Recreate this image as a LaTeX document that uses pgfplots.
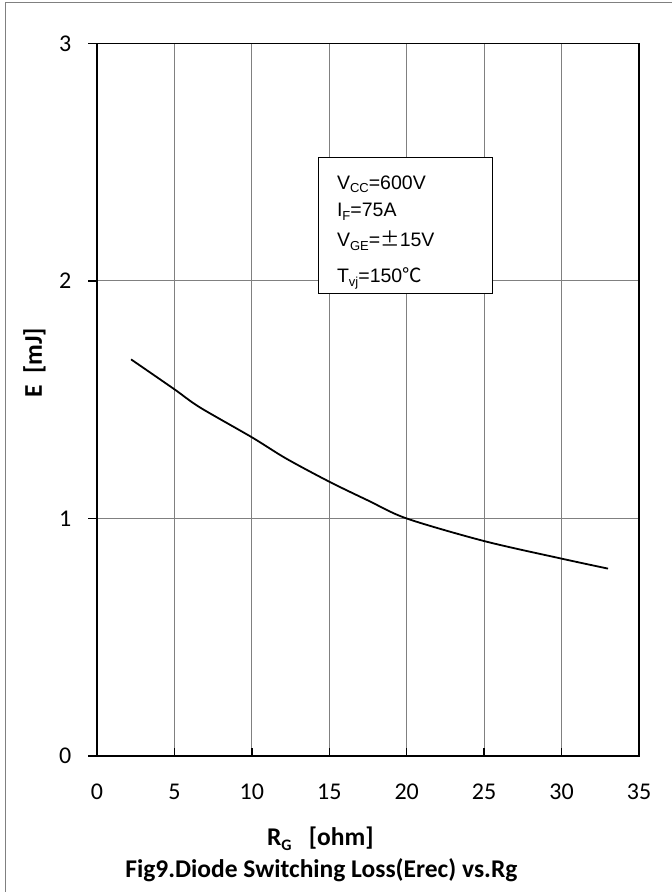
\documentclass[border=0pt]{standalone}
\usepackage{fontspec}
\setmainfont{Carlito}
\newfontfamily\arial{Liberation Sans}
\newfontfamily\cjk{Noto Sans CJK SC}
\usepackage{pgfplots}
\pgfplotsset{compat=1.18}
\newcommand{\sub}[1]{\raisebox{-0.35ex}{\fontsize{13}{13}\selectfont #1}}
\newcommand{\bsub}[1]{\raisebox{-0.4ex}{\fontsize{16}{16}\selectfont #1}}
\begin{document}
\begin{tikzpicture}
\begin{axis}[
  at={(0,0)}, anchor=south west,
  scale only axis, width=542pt, height=712.5pt,
  xmin=0, xmax=35, ymin=0, ymax=3,
  xtick={0,5,...,35}, ytick={0,1,2,3},
  grid=major,
  major grid style={draw=black!50, line width=1pt},
  axis line style={black, line width=1.6pt},
  xtick pos=bottom, ytick pos=left,
  xtick align=inside, ytick align=outside,
  major tick length=8.5pt,
  tick style={black, line width=1.3pt},
  xticklabel={\fontsize{24}{25}\selectfont\pgfmathprintnumber[assume math mode=true]{\tick}},
  yticklabel={\fontsize{24}{25}\selectfont\pgfmathprintnumber[assume math mode=true]{\tick}},
  xticklabel style={anchor=center, yshift=-36pt},
  yticklabel style={anchor=east, inner sep=0pt, xshift=-17pt},
  xlabel={\textbf{R\bsub{G}\ \ \ [ohm]}},
  xlabel style={at={(axis description cs:0.412,-0.1263)}, anchor=base, font=\fontsize{25.5}{26}\selectfont},
  ylabel={\textbf{E\ \ [mJ]}},
  ylabel style={at={(axis description cs:-0.1015,0.552)}, anchor=base, rotate=0, font=\fontsize{25.5}{26}\selectfont},
  clip=false,
]
\addplot[black, line width=1.8pt, smooth, tension=0.5] coordinates {
 (2.2,1.670) (5,1.544) (6.64,1.468) (10,1.342) (12.2,1.253) (15,1.155)
 (17.53,1.075) (20,1.0) (25,0.905) (30,0.831) (33,0.789)
};
\draw[black, line width=1pt, fill=white] (axis cs:14.33,1.949) rectangle (axis cs:25.57,2.518);
\begin{scope}[every node/.style={anchor=base west, inner sep=0pt, font=\arial\fontsize{19.5}{20}\selectfont}]
\node at (axis cs:15.49,2.387) {V\sub{CC}=600V};
\node at (axis cs:15.49,2.271) {I\sub{F}=75A};
\node at (axis cs:15.49,2.144) {V\sub{GE}={\cjk ±}15V};
\node at (axis cs:15.49,1.993) {T\sub{vj}=150{\cjk ℃}};
\end{scope}
\node[font=\bfseries\fontsize{25.5}{26}\selectfont, anchor=base] at (axis description cs:0.414,-0.170) {Fig9.Diode Switching Loss(Erec) vs.Rg};
\end{axis}
\draw[black!50, line width=1pt] (-91.5pt,-150pt) -- (-91.5pt,753pt) -- (600pt,753pt);
\pgfresetboundingbox
\useasboundingbox (-97pt,-136pt) rectangle (575pt,756pt);
\end{tikzpicture}
\end{document}
